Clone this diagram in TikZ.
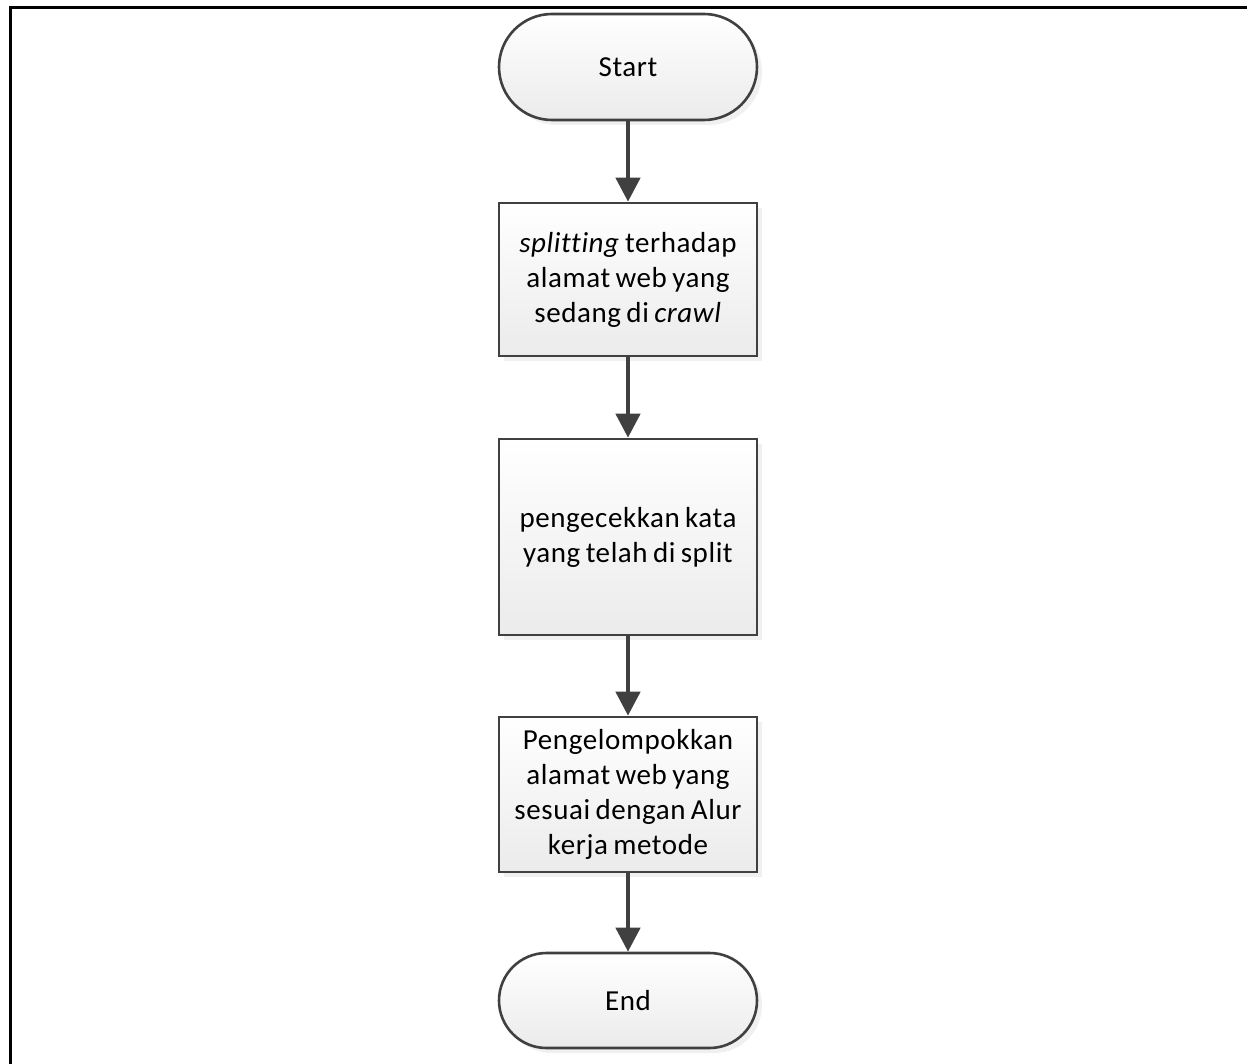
\documentclass[tikz,border=0pt]{standalone}
\usepackage{fontspec}
\setmainfont{Carlito}[Ligatures=NoCommon, WordSpace=0.75, LetterSpace=2]
\usetikzlibrary{arrows.meta,shadows}
\definecolor{edgecol}{HTML}{404040}
\definecolor{fillbot}{HTML}{EBEBEB}
\tikzset{
  base/.style={draw=edgecol, line width=1.3pt, top color=white, bottom color=fillbot,
    drop shadow={shadow xshift=2.5pt, shadow yshift=-2.5pt, opacity=0.12},
    align=center, font=\fontsize{14.5}{17.5}\selectfont, inner sep=0pt,
    minimum width=129pt},
  term/.style={base, rounded corners=#1},
  proc/.style={base},
  flow/.style={draw=edgecol, line width=2.2pt, -{Triangle[length=12pt,width=12pt]}},
  frame/.style={draw=black, line width=1.5pt}
}
\begin{document}
\begin{tikzpicture}[x=0.5pt,y=-0.5pt]
\useasboundingbox (0,0) rectangle (1247,1064);
\draw[frame] (10,1064) -- (10,7.5) -- (1247,7.5);
\node[term=26.5pt, minimum height=53pt] (start) at (628,67) {Start};
\node[proc, minimum height=76.5pt] (s1) at (628,279.5) {\textit{splitting} terhadap\\alamat web yang\\sedang di \textit{crawl}};
\node[proc, minimum height=98pt] (s2) at (628,537) {pengecekkan kata\\yang telah di split};
\node[proc, minimum height=77.5pt] (s3) at (628,794.5) {Pengelompokkan\\alamat web yang\\sesuai dengan Alur\\kerja metode};
\node[term=23.75pt, minimum height=47.5pt] (end) at (628,1000.5) {End};
\draw[flow] (start) -- (s1);
\draw[flow] (s1) -- (s2);
\draw[flow] (s2) -- (s3);
\draw[flow] (s3) -- (end);
\end{tikzpicture}
\end{document}
